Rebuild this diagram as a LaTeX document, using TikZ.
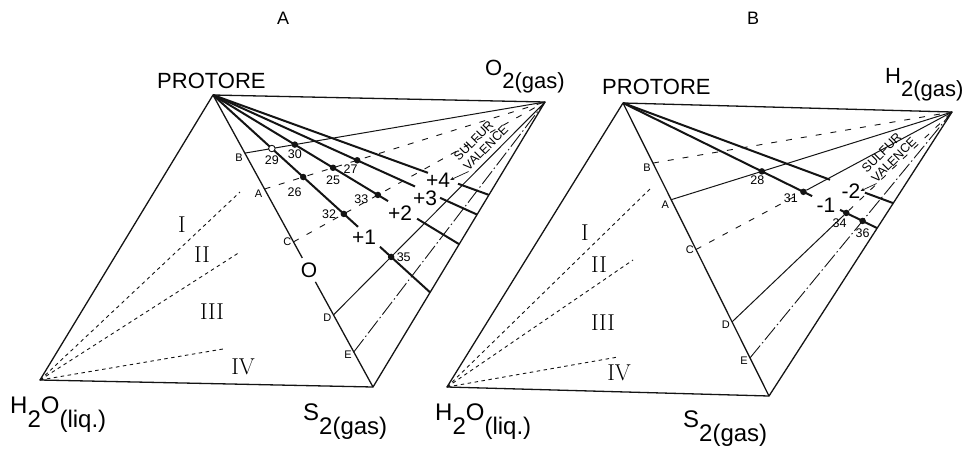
\documentclass[tikz,border=0pt]{standalone}
\usepackage{fontspec}
\usepackage{tikz}
\usetikzlibrary{positioning,calc,arrows.meta}
\newfontfamily\lettering{Liberation Sans}
\definecolor{ink}{HTML}{141414}
\tikzset{
  rim/.style={draw=ink,line width=1.3pt,line join=round},
  valline/.style={draw=ink,line width=2pt},
  tie/.style={draw=ink,line width=1pt},
  tiedash/.style={draw=ink,line width=0.9pt,dash pattern=on 6pt off 9pt},
  tiedot/.style={draw=ink,line width=0.9pt,dash pattern=on 16pt off 3pt on 1.5pt off 3pt},
  field/.style={draw=ink,line width=0.9pt,dash pattern=on 3.5pt off 3.5pt},
  apex/.style={font=\lettering\fontsize{22}{22}\selectfont,inner sep=0pt,anchor=base west},
  bigapex/.style={apex,font=\lettering\fontsize{24}{24}\selectfont},
  ptlab/.style={font=\lettering\fontsize{11}{11}\selectfont,inner sep=1pt},
  numlab/.style={font=\lettering\fontsize{12.5}{12.5}\selectfont,inner sep=1pt},
  vallab/.style={font=\lettering\fontsize{21}{21}\selectfont,inner sep=0pt},
  fieldlab/.style={font=\rmfamily\fontsize{23}{23}\selectfont,inner sep=0pt},
  valtag/.style={font=\lettering\fontsize{12.5}{13.5}\selectfont,inner sep=0pt,
    rotate=45,align=left},
  dot/.style={circle,fill=ink,inner sep=0pt,minimum size=6.5pt},
  odot/.style={circle,draw=ink,fill=white,line width=0.9pt,inner sep=0pt,minimum size=6.5pt},
  pointer/.style={-{Stealth[length=4pt,width=3.5pt]},draw=ink,line width=0.7pt},
  panel/.style={font=\lettering\fontsize{18}{18}\selectfont},
}
\newcommand{\low}[1]{\raisebox{-0.6em}{#1}}

\begin{document}
\begin{tikzpicture}[x=1pt,y=-1pt]
  \useasboundingbox (0,0) rectangle (964,458);
  \node[panel] (tA) at (283,18) {A};
  \node[panel] (tB) at (753,18) {B};

  \coordinate (aP) at (213,95);
  \coordinate (aO) at (545,102);
  \coordinate (aW) at (40,380);
  \coordinate (aS) at (373,387);
  \coordinate (aB) at ($(aP)!0.199!(aS)$);
  \coordinate (aA) at ($(aP)!0.322!(aS)$);
  \coordinate (aC) at ($(aP)!0.503!(aS)$);
  \coordinate (aD) at ($(aP)!0.753!(aS)$);
  \coordinate (aE) at ($(aP)!0.88!(aS)$);
  \coordinate (aV1) at ($(aO)!0.668!(aS)$);
  \coordinate (aV2) at ($(aO)!0.499!(aS)$);
  \coordinate (aV3) at ($(aO)!0.395!(aS)$);
  \coordinate (aV4) at ($(aO)!0.326!(aS)$);
  \coordinate (aF1) at (240,192);
  \coordinate (aF2) at (240,252);
  \coordinate (aF3) at (223,349);

  \draw[rim] (aP) -- (aO) -- (aS) -- (aW) -- cycle;
  \draw[rim] (aP) -- ($(aP)!0.558!(aS)$);
  \draw[rim] ($(aP)!0.64!(aS)$) -- (aS);
  \draw[tie] (aB) -- (aO);
  \draw[tiedash] (aA) -- (aO);
  \draw[tiedash] (aC) -- (aO);
  \draw[tie] (aD) -- (aO);
  \draw[tiedot] (aE) -- (aO);
  \draw[field] (aW) -- (aF1);
  \draw[field] (aW) -- (aF2);
  \draw[field] (aW) -- (aF3);
  \draw[valline] (aP) -- ($(aP)!0.668!(aV1)$);
  \draw[valline] ($(aP)!0.769!(aV1)$) -- (aV1);
  \draw[valline] (aP) -- ($(aP)!0.711!(aV2)$);
  \draw[valline] ($(aP)!0.829!(aV2)$) -- (aV2);
  \draw[valline] (aP) -- ($(aP)!0.765!(aV3)$);
  \draw[valline] ($(aP)!0.86!(aV3)$) -- (aV3);
  \draw[valline] (aP) -- ($(aP)!0.779!(aV4)$);
  \draw[valline] ($(aP)!0.888!(aV4)$) -- (aV4);

  \node[odot] (a29) at (intersection of aP--aV1 and aB--aO) {};
  \node[dot] (a30) at (intersection of aP--aV2 and aB--aO) {};
  \node[dot] (a26) at (intersection of aP--aV1 and aA--aO) {};
  \node[dot] (a25) at (intersection of aP--aV2 and aA--aO) {};
  \node[dot] (a27) at (intersection of aP--aV3 and aA--aO) {};
  \node[dot] (a32) at (intersection of aP--aV1 and aC--aO) {};
  \node[dot] (a33) at (intersection of aP--aV2 and aC--aO) {};
  \node[dot] (a35) at (intersection of aP--aV1 and aD--aO) {};
  \node[numlab,below=2pt of a29] {29};
  \node[numlab,below=1pt of a30] {30};
  \node[numlab,below left=1pt and -4pt of a27] {27};
  \node[numlab,below=3pt of a25] {25};
  \node[numlab,below left=7pt and -2pt of a26] {26};
  \node[numlab,left=5pt of a33,yshift=-4pt] {33};
  \node[numlab,left=3pt of a32] {32};
  \node[numlab,right=1pt of a35] {35};

  \node[ptlab,below left=0pt and 1pt of aB] {B};
  \node[ptlab,below left=0pt and 1pt of aA] {A};
  \node[ptlab,left=1pt of aC] {C};
  \node[ptlab,below left=-2pt and 1pt of aD] {D};
  \node[ptlab,below left=-2pt and 1pt of aE] {E};

  \node[vallab] (aL0) at (309,270) {O};
  \node[vallab] (aL1) at (364,237) {+1};
  \node[vallab] (aL2) at (400,213) {+2};
  \node[vallab] (aL3) at (425,198) {+3};
  \node[vallab] (aL4) at (438,180) {+4};
  \node[valtag] (aTag) at (481,143) {SULFUR\\VALENCE};
  \draw[pointer] (aTag.south west) -- (aL4.east);

  \node[fieldlab] at (182,225) {I};
  \node[fieldlab] at (202,255) {II};
  \node[fieldlab] at (212,312) {III};
  \node[fieldlab] at (243,367) {IV};

  \node[apex] (aPlab) at (157,88) {PROTORE};
  \node[apex] (aOlab) at (485,75) {O\low{2(gas)}};
  \node[bigapex] (aWlab) at (10,413) {H\low{2}O\low{(liq.)}};
  \node[bigapex] (aSlab) at (303,420) {S\low{2(gas)}};

  \coordinate (bP) at (623,103);
  \coordinate (bH) at (952,112);
  \coordinate (bW) at (447,387);
  \coordinate (bS) at (769,396);
  \coordinate (bB) at ($(bP)!0.205!(bS)$);
  \coordinate (bA) at ($(bP)!0.33!(bS)$);
  \coordinate (bC) at ($(bP)!0.5!(bS)$);
  \coordinate (bD) at ($(bP)!0.747!(bS)$);
  \coordinate (bE) at ($(bP)!0.87!(bS)$);
  \coordinate (bV1) at ($(bH)!0.409!(bS)$);
  \coordinate (bV2) at ($(bH)!0.321!(bS)$);
  \coordinate (bF1) at (650,189);
  \coordinate (bF2) at (633,260);
  \coordinate (bF3) at (618,357);

  \node[dot] (b28) at (intersection of bP--bV1 and bA--bH) {};
  \node[dot] (b31) at (intersection of bP--bV1 and bC--bH) {};
  \node[dot] (b34) at (intersection of bP--bV1 and bD--bH) {};
  \node[dot] (b36) at (intersection of bP--bV1 and bE--bH) {};

  \draw[rim] (bP) -- (bH) -- (bS) -- (bW) -- cycle;
  \draw[rim] (bP) -- (bS);
  \draw[tiedash] (bB) -- (bH);
  \draw[tie] (bA) -- (bH);
  \draw[tiedash] (bC) -- (b31);
  \draw[tie] (b31) -- (bH);
  \draw[tie] (bD) -- (b34);
  \draw[tiedash] (b34) -- (bH);
  \draw[tiedot] (bE) -- (bH);
  \draw[field] (bW) -- (bF1);
  \draw[field] (bW) -- (bF2);
  \draw[field] (bW) -- (bF3);
  \draw[valline] (bP) -- ($(bP)!0.744!(bV1)$);
  \draw[valline] ($(bP)!0.854!(bV1)$) -- (bV1);
  \draw[valline] (bP) -- ($(bP)!0.766!(bV2)$);
  \draw[valline] ($(bP)!0.895!(bV2)$) -- (bV2);

  \node[numlab,below left=1pt and -6pt of b28] {28};
  \node[numlab,below left=-2pt and 2pt of b31] {31};
  \node[numlab,below left=2pt and -4pt of b34] {34};
  \node[numlab,below=3pt of b36] {36};

  \node[ptlab,below left=0pt and 1pt of bB] {B};
  \node[ptlab,below left=0pt and 1pt of bA] {A};
  \node[ptlab,left=1pt of bC] {C};
  \node[ptlab,below left=-2pt and 1pt of bD] {D};
  \node[ptlab,below left=-2pt and 1pt of bE] {E};

  \node[vallab] (bL1) at (826,205) {-1};
  \node[vallab] (bL2) at (851,191) {-2};
  \node[valtag] (bTag) at (889,155) {SULFUR\\VALENCE};
  \draw[pointer] (bTag.south west) -- (bL2.east);

  \node[fieldlab] at (585,233) {I};
  \node[fieldlab] at (599,265) {II};
  \node[fieldlab] at (603,323) {III};
  \node[fieldlab] at (619,373) {IV};

  \node[apex] (bPlab) at (602,94) {PROTORE};
  \node[apex] (bHlab) at (885,83) {H\low{2(gas)}};
  \node[bigapex] (bWlab) at (435,420) {H\low{2}O\low{(liq.)}};
  \node[bigapex] (bSlab) at (683,427) {S\low{2(gas)}};
\end{tikzpicture}
\end{document}
